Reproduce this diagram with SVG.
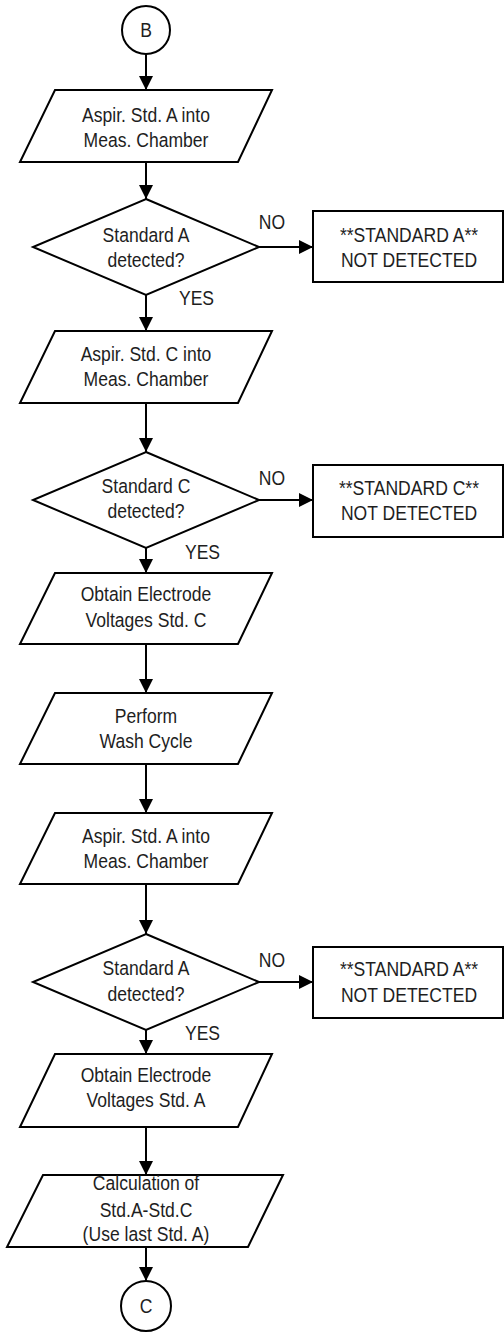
<svg xmlns="http://www.w3.org/2000/svg" width="504" height="1332" viewBox="0 0 504 1332">
<style>
.s{fill:#fff;stroke:#000;stroke-width:2}
.c{fill:none;stroke:#000;stroke-width:2}
text{font-family:"Liberation Sans",Arial,sans-serif;font-size:19.5px;fill:#1e1e1e;text-anchor:middle;transform-box:fill-box;transform-origin:center;transform:scaleX(0.9)}
.l{text-anchor:start}
</style>
<defs>
<marker id="a" markerUnits="userSpaceOnUse" markerWidth="14" markerHeight="14" refX="14" refY="7" orient="auto">
<path d="M0,0 L14,7 L0,14 z" fill="#000"/>
</marker>
</defs>
<rect width="504" height="1332" fill="#fff"/>
<g id="connectors">
<line class="c" x1="146" y1="54" x2="146" y2="90" marker-end="url(#a)"/>
<line class="c" x1="146" y1="162" x2="146" y2="199" marker-end="url(#a)"/>
<line class="c" x1="146" y1="295" x2="146" y2="331" marker-end="url(#a)"/>
<line class="c" x1="146" y1="403" x2="146" y2="452" marker-end="url(#a)"/>
<line class="c" x1="146" y1="548" x2="146" y2="573" marker-end="url(#a)"/>
<line class="c" x1="146" y1="644" x2="146" y2="693" marker-end="url(#a)"/>
<line class="c" x1="146" y1="764" x2="146" y2="813" marker-end="url(#a)"/>
<line class="c" x1="146" y1="884" x2="146" y2="934" marker-end="url(#a)"/>
<line class="c" x1="146" y1="1030" x2="146" y2="1054" marker-end="url(#a)"/>
<line class="c" x1="146" y1="1127" x2="146" y2="1175" marker-end="url(#a)"/>
<line class="c" x1="146" y1="1247" x2="146" y2="1281" marker-end="url(#a)"/>
<line class="c" x1="259" y1="247" x2="313" y2="247" marker-end="url(#a)"/>
<line class="c" x1="259" y1="500" x2="313" y2="500" marker-end="url(#a)"/>
<line class="c" x1="259" y1="982" x2="313" y2="982" marker-end="url(#a)"/>
<text x="272" y="229">NO</text>
<text class="l" x="177" y="305">YES</text>
<text x="272" y="485">NO</text>
<text class="l" x="183" y="559">YES</text>
<text x="272" y="967">NO</text>
<text class="l" x="183" y="1040">YES</text>
</g>
<g id="start-b">
<circle class="s" cx="146" cy="30" r="24"/>
<text x="146" y="37">B</text>
</g>
<g id="aspir-a-1">
<polygon class="s" points="55,90 272,90 238,162 20,162"/>
<text x="146" y="122">Aspir. Std. A into</text>
<text x="146" y="147">Meas. Chamber</text>
</g>
<g id="dec-a-1">
<polygon class="s" points="146,199 259,247 146,295 33,247"/>
<text x="146" y="242">Standard A</text>
<text x="146" y="267">detected?</text>
</g>
<g id="err-a-1">
<rect class="s" x="313" y="211" width="190" height="71"/>
<text x="409" y="242">**STANDARD A**</text>
<text x="409" y="267">NOT DETECTED</text>
</g>
<g id="aspir-c">
<polygon class="s" points="55,331 272,331 238,403 20,403"/>
<text x="146" y="361">Aspir. Std. C into</text>
<text x="146" y="386">Meas. Chamber</text>
</g>
<g id="dec-c">
<polygon class="s" points="146,452 259,500 146,548 33,500"/>
<text x="146" y="493">Standard C</text>
<text x="146" y="518">detected?</text>
</g>
<g id="err-c">
<rect class="s" x="313" y="465" width="190" height="72"/>
<text x="409" y="495">**STANDARD C**</text>
<text x="409" y="520">NOT DETECTED</text>
</g>
<g id="volt-c">
<polygon class="s" points="55,573 272,573 238,644 20,644"/>
<text x="146" y="601">Obtain Electrode</text>
<text x="146" y="627">Voltages Std. C</text>
</g>
<g id="wash">
<polygon class="s" points="55,693 272,693 238,764 20,764"/>
<text x="146" y="723">Perform</text>
<text x="146" y="748">Wash Cycle</text>
</g>
<g id="aspir-a-2">
<polygon class="s" points="55,813 272,813 238,884 20,884"/>
<text x="146" y="843">Aspir. Std. A into</text>
<text x="146" y="868">Meas. Chamber</text>
</g>
<g id="dec-a-2">
<polygon class="s" points="146,934 259,982 146,1030 33,982"/>
<text x="146" y="975">Standard A</text>
<text x="146" y="1001">detected?</text>
</g>
<g id="err-a-2">
<rect class="s" x="313" y="947" width="190" height="71"/>
<text x="409" y="976">**STANDARD A**</text>
<text x="409" y="1002">NOT DETECTED</text>
</g>
<g id="volt-a">
<polygon class="s" points="55,1054 272,1054 238,1127 20,1127"/>
<text x="146" y="1082">Obtain Electrode</text>
<text x="146" y="1107">Voltages Std. A</text>
</g>
<g id="calc">
<polygon class="s" points="43,1175 283,1175 248,1247 7,1247"/>
<text x="146" y="1190">Calculation of</text>
<text x="146" y="1217">Std.A-Std.C</text>
<text x="146" y="1241">(Use last Std. A)</text>
</g>
<g id="end-c">
<circle class="s" cx="146" cy="1306" r="25"/>
<text x="146" y="1313">C</text>
</g>
</svg>
